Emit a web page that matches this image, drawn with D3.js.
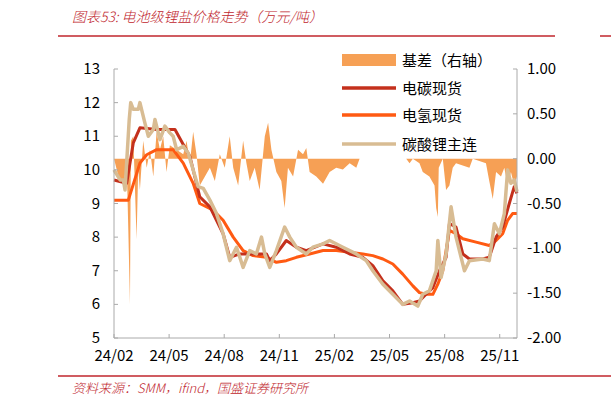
<!DOCTYPE html><html><head><meta charset="utf-8"><script src="https://cdn.jsdelivr.net/npm/d3@7"></script>
<style>body{margin:0;background:#fff}text{font-family:"Noto Sans CJK SC","DejaVu Sans",sans-serif}</style></head><body><svg id="c" width="611" height="410"></svg>
<script>
// x = months since 2024-02
const xTickLabels=["24/02","24/05","24/08","24/11","25/02","25/05","25/08","25/11"];
const leftTicks=[5,6,7,8,9,10,11,12,13];
const rightTicks=["-2.00","-1.50","-1.00","-0.50","0.00","0.50","1.00"];
const carbM=[0,.69,1.05,1.41,2.32,3.32,4.13,4.67,5.22,5.94,6.30,6.85,8.30,8.48,8.84,9.38,9.93,10.47,11.38,12.10,12.83,13.55,14.09,14.64,15.18,15.72,16.27,16.63,16.99,17.36,17.72,18.08,18.26,18.62,18.99,19.35,20.07,20.43,20.80,21.16,21.52,21.79,21.94];
const carbV=[9.7,9.6,10.8,11.25,11.2,11.2,10.4,9.2,8.9,8.1,7.4,7.5,7.5,7.3,7.5,7.9,7.7,7.6,7.8,7.7,7.5,7.4,7.15,6.7,6.4,6.0,6.05,6.1,6.3,6.5,7.0,7.4,8.4,8.3,7.5,7.35,7.35,7.4,8.0,8.3,9.0,9.5,9.3];
const hydM=[0,.78,1.41,1.78,2.32,3.22,3.77,4.31,4.67,5.40,5.94,6.49,7.03,7.57,8.30,8.84,9.38,9.93,10.65,11.38,12.10,12.83,13.55,14.09,14.64,15.18,15.72,16.27,16.63,16.99,17.36,17.63,17.90,18.26,18.62,18.99,19.71,20.43,20.80,21.16,21.43,21.70,21.94];
const hydV=[9.1,9.1,10.2,10.45,10.6,10.6,10.2,9.6,9.0,8.8,8.5,8.0,7.6,7.45,7.4,7.25,7.3,7.4,7.5,7.6,7.6,7.55,7.5,7.45,7.35,7.2,6.9,6.55,6.35,6.3,6.3,6.6,7.0,8.2,8.1,7.95,7.85,7.75,7.9,8.1,8.5,8.7,8.7];
const futM=[0,.33,.51,.60,.83,.91,1.05,1.32,1.41,1.68,1.87,2.14,2.23,2.50,2.77,3.04,3.22,3.41,3.77,4.04,4.31,4.58,4.86,5.22,5.58,5.94,6.30,6.67,7.03,7.39,7.75,8.03,8.21,8.48,8.84,9.29,9.57,9.93,10.47,10.83,11.38,11.74,12.46,13.19,13.73,14.09,14.64,15.18,15.72,16.09,16.54,16.81,17.17,17.54,17.63,17.81,18.08,18.35,18.62,19.08,19.35,20.07,20.43,20.71,20.98,21.25,21.43,21.61,21.79,21.94];
const futV=[10.0,9.7,9.7,9.4,11.5,12.0,11.8,11.8,12.0,11.4,11.0,11.2,11.5,10.9,11.3,11.1,11.0,10.6,10.7,10.5,10.0,9.5,9.45,9.1,8.7,8.1,7.3,7.7,7.1,7.6,7.5,8.0,7.5,7.1,7.6,8.3,8.0,7.7,7.5,7.7,7.8,7.9,7.7,7.5,7.3,7.0,6.6,6.3,6.0,6.1,5.95,6.3,6.4,7.0,7.9,6.8,7.5,8.9,8.0,7.0,7.3,7.35,7.3,8.4,8.1,8.7,10.0,9.6,9.7,9.35];
const basM=[0,.24,.51,.69,.78,.87,.92,1.05,1.23,1.32,1.41,1.59,1.78,1.96,2.14,2.32,2.50,2.68,2.86,3.04,3.41,3.77,3.95,4.13,4.31,4.49,4.67,4.95,5.22,5.49,5.76,6.03,6.30,6.49,6.76,7.03,7.21,7.39,7.66,7.93,8.21,8.39,8.57,8.84,9.11,9.29,9.47,9.75,10.02,10.29,10.47,10.65,11.01,11.38,11.74,12.10,12.46,12.83,13.19,13.37,15.91,16.09,16.27,16.63,16.81,17.17,17.45,17.54,17.63,17.68,17.90,18.08,18.26,18.44,18.62,19.35,19.53,20.25,20.43,20.62,20.80,21.07,21.25,21.43,21.61,21.79,21.94];
const basV=[0,-0.2,-0.3,-0.05,-0.8,-1.63,0.2,0.25,-0.9,-0.1,-0.35,0.2,-0.1,0.1,-0.2,0.3,0.1,0.25,-0.15,0.15,0.1,0.05,0.2,-0.05,0.3,0.05,-0.3,-0.2,-0.1,-0.25,0.05,-0.1,0.25,-0.1,-0.3,0.2,-0.05,-0.25,-0.1,-0.35,0.25,0.4,0.1,-0.15,-0.25,-0.55,-0.1,-0.2,0.1,0.05,0.12,-0.15,-0.2,-0.28,-0.15,-0.1,-0.12,-0.05,-0.1,0,0,-0.05,0,-0.05,-0.15,-0.2,-0.3,-0.55,-0.65,-0.1,0,-0.35,-0.3,-0.1,-0.05,-0.1,0,-0.05,-0.25,-0.45,-0.15,-0.2,-0.1,-0.3,-0.15,-0.3,-0.2];

const svg=d3.select("#c");
const x=d3.scaleLinear().domain([0,21.94]).range([114,517]);
const yL=d3.scaleLinear().domain([5,13]).range([338,69]);
const yR=d3.scaleLinear().domain([-2,1]).range([338,69]);
const red="#C0262D";
svg.append("text").attr("x",72).attr("y",22).attr("fill",red).attr("font-style","italic").attr("font-size",14).attr("font-weight",300).text("图表53:  电池级锂盐价格走势（万元/吨）");
svg.append("line").attr("x1",58).attr("x2",555).attr("y1",36).attr("y2",36).attr("stroke",red).attr("stroke-width",1.5);
svg.append("line").attr("x1",600).attr("x2",611).attr("y1",36).attr("y2",36).attr("stroke",red).attr("stroke-width",1.5);
svg.append("line").attr("x1",58).attr("x2",611).attr("y1",376).attr("y2",376).attr("stroke",red).attr("stroke-width",1.5);
svg.append("text").attr("x",72).attr("y",393).attr("fill",red).attr("font-style","italic").attr("font-size",13).attr("font-weight",300).text("资料来源：SMM，ifind，国盛证券研究所");

const mk=(m,v)=>m.map((d,i)=>[d,v[i]]);
svg.append("path").datum(mk(basM,basV)).attr("fill","#F6A055")
 .attr("d",d3.area().x(d=>x(d[0])).y0(yR(0)).y1(d=>yR(d[1])));
const line=d3.line().x(d=>x(d[0])).y(d=>yL(d[1]));
[[hydM,hydV,"#FF5A12",3],[carbM,carbV,"#C4301C",3],[futM,futV,"#D8BC93",3.5]].forEach(([m,v,c,w])=>
 svg.append("path").datum(mk(m,v)).attr("fill","none").attr("stroke",c).attr("stroke-width",w).attr("stroke-linejoin","round").attr("d",line));

const g="#aaa";
svg.append("line").attr("x1",114).attr("x2",114).attr("y1",69).attr("y2",338).attr("stroke",g);
svg.append("line").attr("x1",517).attr("x2",517).attr("y1",69).attr("y2",338).attr("stroke",g);
svg.append("line").attr("x1",114).attr("x2",517).attr("y1",338).attr("y2",338).attr("stroke",g);
leftTicks.forEach(t=>{svg.append("line").attr("x1",114).attr("x2",118).attr("y1",yL(t)).attr("y2",yL(t)).attr("stroke",g);
 svg.append("text").attr("x",100).attr("y",yL(t)+5).attr("text-anchor","end").attr("font-size",15).attr("font-family","DejaVu Sans").text(t);});
rightTicks.forEach(t=>{svg.append("line").attr("x1",513).attr("x2",517).attr("y1",yR(+t)).attr("y2",yR(+t)).attr("stroke",g);
 svg.append("text").attr("x",527).attr("y",yR(+t)+5).attr("font-size",15).attr("font-family","DejaVu Sans").text(t);});
xTickLabels.forEach((t,i)=>{const xx=x(i*3);
 svg.append("line").attr("x1",xx).attr("x2",xx).attr("y1",334).attr("y2",338).attr("stroke",g);
 svg.append("text").attr("x",xx).attr("y",361).attr("text-anchor","middle").attr("font-size",15).attr("font-family","DejaVu Sans").text(t);});

const leg=[["基差（右轴）","#F6A055","rect"],["电碳现货","#C4301C"],["电氢现货","#FF5A12"],["碳酸锂主连","#D8BC93"]];
const ly=[60,88,115,144];
leg.forEach((l,i)=>{
 if(l[2])svg.append("rect").attr("x",342).attr("y",ly[i]-6).attr("width",54).attr("height",12).attr("fill",l[1]);
 else svg.append("line").attr("x1",342).attr("x2",396).attr("y1",ly[i]).attr("y2",ly[i]).attr("stroke",l[1]).attr("stroke-width",3.5);
 svg.append("text").attr("x",402).attr("y",ly[i]+6).attr("font-size",15).text(l[0]);});
</script></body></html>
